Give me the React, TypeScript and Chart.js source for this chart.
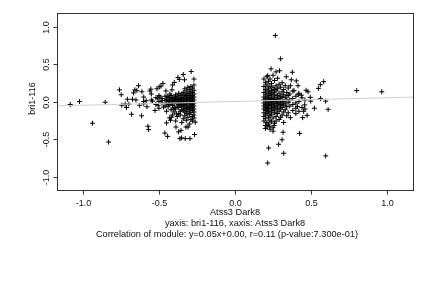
import React, { useEffect, useRef } from "react";
import { Chart, registerables } from "chart.js";

Chart.register(...registerables);

// ---- data ----
const xAxisTitle = "Atss3 Dark8";
const yAxisTitle = "bri1-116";
const subtitle1 = "yaxis: bri1-116, xaxis: Atss3 Dark8";
const subtitle2 = "Correlation of module: y=0.05x+0.00, r=0.11 (p-value:7.300e-01)";

const xTicks = [-1.0, -0.5, 0.0, 0.5, 1.0];
const yTicks = [-1.0, -0.5, 0.0, 0.5, 1.0];
const xRange = [-1.17, 1.17];
const yRange = [-1.18, 1.18];

const fitSlope = 0.05;
const fitIntercept = 0.0;

// sparse left points
const leftSparseX = [-1.083, -1.022, -0.937, -0.853, -0.831, -0.759, -0.748, -0.744, -0.722, -0.713, -0.707, -0.698, -0.68, -0.674, -0.667, -0.658, -0.651, -0.645, -0.634, -0.628, -0.614, -0.612, -0.601, -0.584, -0.579, -0.572, -0.568, -0.559, -0.553, -0.542, -0.526, -0.513, -0.509, -0.505, -0.498, -0.493, -0.487, -0.48, -0.474, -0.47, -0.461, -0.454, -0.45, -0.447, -0.443, -0.437, -0.428, -0.424, -0.419, -0.414, -0.41, -0.406, -0.399, -0.395, -0.388, -0.384, -0.38, -0.375, -0.371, -0.366, -0.362, -0.355, -0.351, -0.34, -0.332, -0.327, -0.322, -0.309, -0.296, -0.288, -0.27, -0.266, -0.261];
const leftSparseY = [-0.04, 0.0, -0.29, -0.01, -0.54, 0.155, 0.09, -0.05, -0.035, -0.08, 0.03, -0.035, -0.17, 0.03, 0.115, 0.155, 0.02, 0.145, 0.21, -0.05, -0.19, 0.13, 0.0, 0.01, -0.07, -0.33, -0.375, 0.14, 0.165, 0.005, -0.12, 0.17, 0.045, -0.05, 0.195, 0.06, 0.205, 0.015, 0.24, -0.075, -0.42, 0.14, -0.285, 0.07, -0.465, -0.03, 0.1, -0.25, -0.21, 0.155, 0.22, -0.1, 0.255, 0.035, -0.34, -0.165, 0.015, 0.32, -0.405, 0.295, -0.495, -0.385, -0.485, 0.36, 0.29, -0.495, -0.34, -0.34, -0.495, 0.4, 0.3, -0.44, -0.275];

// dense left cluster
const leftDenseX = [
  -0.27, -0.27, -0.27, -0.27, -0.27, -0.27, -0.27, -0.27, -0.27, -0.27, -0.27,
  -0.28, -0.28, -0.28, -0.28, -0.28, -0.28, -0.28, -0.28, -0.28, -0.28,
  -0.29, -0.29, -0.29, -0.29, -0.29, -0.29, -0.29, -0.29, -0.29,
  -0.30, -0.30, -0.30, -0.30, -0.30, -0.30, -0.30, -0.30, -0.30,
  -0.31, -0.31, -0.31, -0.31, -0.31, -0.31, -0.31, -0.31,
  -0.32, -0.32, -0.32, -0.32, -0.32, -0.32, -0.32, -0.32,
  -0.33, -0.33, -0.33, -0.33, -0.33, -0.33, -0.33, -0.33,
  -0.34, -0.34, -0.34, -0.34, -0.34, -0.34, -0.34,
  -0.35, -0.35, -0.35, -0.35, -0.35, -0.35, -0.35,
  -0.36, -0.36, -0.36, -0.36, -0.36, -0.36,
  -0.37, -0.37, -0.37, -0.37, -0.37, -0.37,
  -0.38, -0.38, -0.38, -0.38, -0.38,
  -0.39, -0.39, -0.39, -0.39, -0.39,
  -0.40, -0.40, -0.40, -0.40, -0.40,
  -0.41, -0.41, -0.41, -0.41,
  -0.42, -0.42, -0.42, -0.42,
  -0.43, -0.43, -0.43, -0.43,
  -0.44, -0.44, -0.44,
  -0.45, -0.45, -0.45,
  -0.46, -0.46, -0.46,
  -0.48, -0.48,
  -0.50, -0.50, -0.50,
  -0.52, -0.52,
  -0.55, -0.55,
  -0.60, -0.60,
];
const leftDenseY = [
  0.22, 0.15, 0.10, 0.06, 0.02, -0.02, -0.06, -0.10, -0.14, -0.18, -0.22,
  0.18, 0.12, 0.08, 0.04, 0.00, -0.04, -0.08, -0.12, -0.20, -0.26,
  0.20, 0.13, 0.07, 0.03, -0.01, -0.05, -0.09, -0.15, -0.24,
  0.16, 0.10, 0.05, 0.01, -0.03, -0.07, -0.11, -0.17, -0.30,
  0.19, 0.11, 0.06, 0.02, -0.02, -0.08, -0.13, -0.21,
  0.14, 0.08, 0.03, -0.01, -0.05, -0.10, -0.16, -0.25,
  0.17, 0.09, 0.04, 0.00, -0.04, -0.09, -0.14, -0.19,
  0.12, 0.06, 0.01, -0.03, -0.07, -0.12, -0.23,
  0.10, 0.05, 0.02, -0.02, -0.06, -0.11, -0.28,
  0.08, 0.03, -0.01, -0.05, -0.13, -0.18,
  0.11, 0.04, 0.00, -0.04, -0.08, -0.16,
  0.07, 0.02, -0.02, -0.06, -0.20,
  0.09, 0.05, 0.01, -0.10, -0.26,
  0.06, 0.02, -0.03, -0.08, -0.14,
  0.04, 0.00, -0.05, -0.18,
  0.08, 0.03, -0.02, -0.11,
  0.05, 0.01, -0.04, -0.22,
  0.06, 0.00, -0.07,
  0.03, -0.03, -0.13,
  0.07, 0.01, -0.06,
  0.04, -0.02,
  0.08, 0.00, -0.09,
  0.05, -0.04,
  0.02, 0.10,
  0.06, -0.03,
];

// sparse right points
const rightSparseX = [0.265, 0.30, 0.237, 0.27, 0.293, 0.377, 0.215, 0.337, 0.37, 0.403, 0.583, 0.561, 0.364, 0.414, 0.548, 0.467, 0.48, 0.80, 0.965, 0.388, 0.416, 0.436, 0.495, 0.498, 0.563, 0.596, 0.458, 0.41, 0.522, 0.612, 0.451, 0.474, 0.445, 0.364, 0.425, 0.316, 0.309, 0.287, 0.221, 0.32, 0.596, 0.215, 0.25, 0.228, 0.257];
const rightSparseY = [0.88, 0.57, 0.435, 0.395, 0.41, 0.39, 0.345, 0.33, 0.29, 0.275, 0.265, 0.225, 0.21, 0.21, 0.175, 0.15, 0.13, 0.145, 0.13, 0.145, 0.09, 0.085, 0.055, 0.005, 0.04, 0.005, -0.045, -0.065, -0.09, -0.105, -0.13, -0.185, -0.215, -0.215, -0.425, -0.41, -0.51, -0.57, -0.62, -0.69, -0.725, -0.82, -0.395, -0.33, -0.32];

// dense right cluster
const rightDenseX = [
  0.19, 0.19, 0.19, 0.19, 0.19, 0.19, 0.19, 0.19, 0.19, 0.19, 0.19,
  0.20, 0.20, 0.20, 0.20, 0.20, 0.20, 0.20, 0.20, 0.20, 0.20, 0.20, 0.20,
  0.21, 0.21, 0.21, 0.21, 0.21, 0.21, 0.21, 0.21, 0.21, 0.21, 0.21,
  0.22, 0.22, 0.22, 0.22, 0.22, 0.22, 0.22, 0.22, 0.22, 0.22, 0.22,
  0.23, 0.23, 0.23, 0.23, 0.23, 0.23, 0.23, 0.23, 0.23, 0.23, 0.23,
  0.24, 0.24, 0.24, 0.24, 0.24, 0.24, 0.24, 0.24, 0.24,
  0.25, 0.25, 0.25, 0.25, 0.25, 0.25, 0.25, 0.25, 0.25, 0.25,
  0.26, 0.26, 0.26, 0.26, 0.26, 0.26, 0.26, 0.26,
  0.27, 0.27, 0.27, 0.27, 0.27, 0.27, 0.27, 0.27,
  0.28, 0.28, 0.28, 0.28, 0.28, 0.28, 0.28,
  0.29, 0.29, 0.29, 0.29, 0.29, 0.29, 0.29,
  0.30, 0.30, 0.30, 0.30, 0.30, 0.30,
  0.31, 0.31, 0.31, 0.31, 0.31, 0.31,
  0.32, 0.32, 0.32, 0.32, 0.32, 0.32,
  0.33, 0.33, 0.33, 0.33,
  0.34, 0.34, 0.34, 0.34,
  0.35, 0.35, 0.35, 0.35,
  0.36, 0.36, 0.36,
  0.38, 0.38, 0.38, 0.38,
  0.40, 0.40, 0.40, 0.40,
  0.42, 0.42, 0.42,
  0.44, 0.44,
  0.46, 0.46,
];
const rightDenseY = [
  0.30, 0.20, 0.12, 0.06, 0.02, -0.02, -0.06, -0.10, -0.15, -0.20, -0.26,
  0.25, 0.16, 0.09, 0.04, 0.00, -0.04, -0.08, -0.12, -0.18, -0.23, -0.32, -0.36,
  0.33, 0.22, 0.14, 0.07, 0.01, -0.03, -0.07, -0.11, -0.16, -0.28, -0.34,
  0.27, 0.18, 0.11, 0.05, 0.02, -0.02, -0.05, -0.09, -0.14, -0.21, -0.30,
  0.30, 0.20, 0.13, 0.08, 0.03, -0.01, -0.06, -0.13, -0.19, -0.25, -0.37,
  0.24, 0.15, 0.10, 0.04, 0.00, -0.04, -0.10, -0.17, -0.27,
  0.35, 0.19, 0.12, 0.06, 0.01, -0.03, -0.08, -0.12, -0.22, -0.35,
  0.28, 0.16, 0.09, 0.03, -0.02, -0.07, -0.15, -0.29,
  0.21, 0.14, 0.05, 0.00, -0.05, -0.11, -0.20, -0.26,
  0.31, 0.17, 0.08, 0.02, -0.03, -0.09, -0.16,
  0.23, 0.11, 0.04, -0.01, -0.06, -0.13, -0.24,
  0.19, 0.07, 0.01, -0.04, -0.10, -0.21,
  0.25, 0.13, 0.05, -0.02, -0.08, -0.18,
  0.16, 0.09, 0.00, -0.05, -0.14, -0.28,
  0.21, 0.06, -0.03, -0.11,
  0.12, 0.03, -0.07, -0.19,
  0.18, 0.08, -0.01, -0.15,
  0.10, 0.02, -0.06,
  0.14, 0.04, -0.04, -0.12,
  0.07, -0.02, -0.09, -0.16,
  0.11, 0.00, -0.13,
  0.05, -0.08,
  0.02, -0.10,
];

const FONT = "'Liberation Sans', Arial, Helvetica, sans-serif";

function zip(xs: number[], ys: number[]) {
  return xs.map((x, i) => ({ x, y: ys[i] }));
}

const rAxesPlugin = {
  id: "rAxes",
  afterDraw(chart: any) {
    const ctx = chart.ctx as CanvasRenderingContext2D;
    const { left, top, right, bottom } = chart.chartArea;
    const xs = chart.scales.x;
    const ys = chart.scales.y;
    ctx.save();
    // box
    ctx.strokeStyle = "#333";
    ctx.lineWidth = 1;
    ctx.strokeRect(Math.round(left) + 0.5, Math.round(top) + 0.5, Math.round(right - left), Math.round(bottom - top));
    // x ticks
    ctx.fillStyle = "#111";
    ctx.font = `9px ${FONT}`;
    ctx.textAlign = "center";
    ctx.textBaseline = "middle";
    xTicks.forEach((v) => {
      const px = Math.round(xs.getPixelForValue(v)) + 0.5;
      ctx.beginPath();
      ctx.moveTo(px, Math.round(bottom) + 0.5);
      ctx.lineTo(px, Math.round(bottom) + 4.5);
      ctx.stroke();
      ctx.fillText(v.toFixed(1), px, bottom + 13.5);
    });
    // y ticks (rotated labels)
    yTicks.forEach((v) => {
      const py = Math.round(ys.getPixelForValue(v)) + 0.5;
      ctx.beginPath();
      ctx.moveTo(Math.round(left) + 0.5, py);
      ctx.lineTo(Math.round(left) - 3.5, py);
      ctx.stroke();
      ctx.save();
      ctx.translate(left - 10.5, py);
      ctx.rotate(-Math.PI / 2);
      ctx.fillText(v.toFixed(1), 0, 0);
      ctx.restore();
    });
    // titles
    const cx = (left + right) / 2;
    ctx.font = `9.2px ${FONT}`;
    ctx.fillText(xAxisTitle, cx, bottom + 22);
    ctx.fillText(subtitle1, cx, bottom + 33.5);
    ctx.fillText(subtitle2, cx - 8, bottom + 44.5);
    ctx.font = `9px ${FONT}`;
    ctx.save();
    ctx.translate(left - 24, (top + bottom) / 2 - 3);
    ctx.rotate(-Math.PI / 2);
    ctx.fillText(yAxisTitle, 0, 0);
    ctx.restore();
    ctx.restore();
  },
};

export default function App() {
  const ref = useRef<HTMLCanvasElement | null>(null);
  useEffect(() => {
    if (!ref.current) return;
    const points = [
      ...zip(leftSparseX, leftSparseY),
      ...zip(leftDenseX, leftDenseY),
      ...zip(rightSparseX, rightSparseY),
      ...zip(rightDenseX, rightDenseY),
    ];
    const fitLine = [
      { x: xRange[0], y: fitSlope * xRange[0] + fitIntercept },
      { x: xRange[1], y: fitSlope * xRange[1] + fitIntercept },
    ];
    const chart = new Chart(ref.current, {
      type: "scatter",
      data: {
        datasets: [
          {
            type: "line",
            data: fitLine,
            borderColor: "#cfcfcf",
            borderWidth: 1,
            pointRadius: 0,
            fill: false,
            order: 0,
          } as any,
          {
            data: points,
            pointStyle: "cross",
            pointRadius: 2.5,
            borderColor: "#000",
            backgroundColor: "#000",
            borderWidth: 1,
            order: 1,
          },
        ],
      },
      options: {
        responsive: false,
        animation: false,
        layout: { padding: { left: 57, top: 13, right: 19, bottom: 98 } },
        plugins: { legend: { display: false }, tooltip: { enabled: false } },
        events: [],
        scales: {
          x: { type: "linear", min: xRange[0], max: xRange[1], display: false },
          y: { type: "linear", min: yRange[0], max: yRange[1], display: false },
        },
      },
      plugins: [rAxesPlugin],
    });
    return () => chart.destroy();
  }, []);
  return (
    <div style={{ position: "fixed", left: 0, top: 0, width: 432, height: 288, background: "#fff" }}>
      <canvas ref={ref} width={432} height={288} style={{ display: "block", width: 432, height: 288 }} />
    </div>
  );
}
